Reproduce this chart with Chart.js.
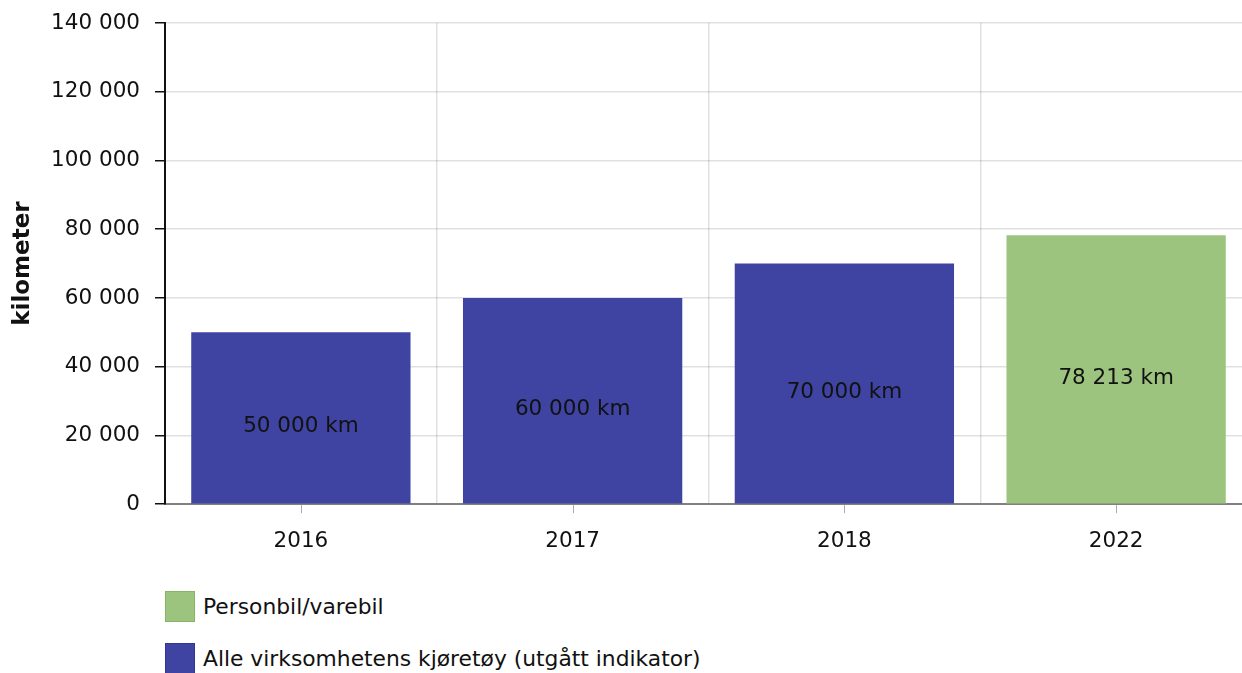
<!DOCTYPE html>
<html>
<head>
<meta charset="utf-8">
<script src="https://cdn.jsdelivr.net/npm/chart.js@4"></script>
<style>
  html, body { margin: 0; padding: 0; background: #fff; overflow: hidden; width: 1242px; height: 673px; }
  #wrap { position: absolute; left: 0; top: 0; width: 1252px; height: 586px; }
  .legend { position: absolute; left: 165px; top: 0; font-family: "DejaVu Sans", Verdana, sans-serif; font-size: 21.8px; color: #111; }
  .legend .item { position: absolute; left: 0; white-space: nowrap; height: 31px; line-height: 31px; }
  .legend .box { position: absolute; left: 0; top: 0; width: 28px; height: 29px; border: 1px solid; }
  .legend .txt { position: absolute; left: 38px; top: 0; }
</style>
</head>
<body>
<div id="wrap"><canvas id="c" width="1252" height="586"></canvas></div>
<div class="legend" id="legend"></div>
<script>
const categories = ['2016', '2017', '2018', '2022'];
const personbilValues = [null, null, null, 78213];
const alleValues = [50000, 60000, 70000, null];
const seriesNames = ['Personbil/varebil', 'Alle virksomhetens kjøretøy (utgått indikator)'];
const yTicks = [0, 20000, 40000, 60000, 80000, 100000, 120000, 140000];
const axisTitle = 'kilometer';

const colors = ['#9cc47e', '#3f44a3'];
const borderColors = ['#86b566', '#2f3496'];
const FONT = '"DejaVu Sans", Verdana, sans-serif';
const FS = 21.5;

function fmt(v) {
  return String(Math.round(v)).replace(/\B(?=(\d{3})+(?!\d))/g, ' ');
}

const extras = {
  id: 'extras',
  afterDraw(chart) {
    const ctx = chart.ctx;
    const x = chart.scales.x, y = chart.scales.y;
    ctx.save();
    ctx.strokeStyle = '#aaaaaa';
    ctx.lineWidth = 1;
    categories.forEach((c, i) => {
      const px = Math.round(x.getPixelForValue(i)) + 0.5;
      ctx.beginPath();
      ctx.moveTo(px, y.bottom + 1);
      ctx.lineTo(px, y.bottom + 9);
      ctx.stroke();
    });
    ctx.fillStyle = '#111';
    ctx.font = FS + 'px ' + FONT;
    ctx.textAlign = 'center';
    ctx.textBaseline = 'middle';
    chart.data.datasets.forEach((ds, di) => {
      const meta = chart.getDatasetMeta(di);
      meta.data.forEach((bar, i) => {
        const v = ds.data[i];
        if (v === null || v === undefined) return;
        const mid = (bar.y + bar.base) / 2;
        ctx.fillText(fmt(v) + ' km', bar.x, mid + 9);
      });
    });
    ctx.restore();
  }
};

new Chart(document.getElementById('c'), {
  type: 'bar',
  data: {
    labels: categories,
    datasets: [
      { label: seriesNames[0], data: personbilValues, backgroundColor: colors[0], borderWidth: 0 },
      { label: seriesNames[1], data: alleValues, backgroundColor: colors[1], borderWidth: 0 }
    ]
  },
  options: {
    responsive: false,
    animation: false,
    layout: { padding: { top: 23, right: 0, bottom: 8, left: 0 } },
    datasets: { bar: { barPercentage: 0.807, categoryPercentage: 1 } },
    plugins: { legend: { display: false }, tooltip: { enabled: false } },
    scales: {
      x: {
        stacked: true,
        z: 1,
        offset: true,
        grid: { offset: true, color: 'rgba(0,0,0,0.12)', drawTicks: false, lineWidth: 1.5 },
        border: { color: '#808080', width: 2 },
        ticks: { font: { family: FONT, size: FS }, color: '#111', padding: 24 }
      },
      y: {
        stacked: true,
        z: 1,
        min: 0, max: 140000,
        afterBuildTicks(scale) { scale.ticks = yTicks.map(v => ({ value: v })); },
        afterFit(scale) { scale.width = 165; scale.paddingTop = 0; scale.paddingBottom = 0; },
        grid: { color: 'rgba(0,0,0,0.12)', tickColor: '#111', tickLength: 10, lineWidth: 1.5 },
        border: { color: '#111', width: 2 },
        ticks: { font: { family: FONT, size: FS }, color: '#111', padding: 15, callback: v => fmt(v) },
        title: { display: true, text: axisTitle, font: { family: FONT, size: 23, weight: 'bold' }, color: '#111', padding: { top: 9, bottom: 0 } }
      }
    }
  },
  plugins: [extras]
});

const leg = document.getElementById('legend');
const tops = [591, 643];
seriesNames.forEach((name, i) => {
  const it = document.createElement('div');
  it.className = 'item';
  it.style.top = tops[i] + 'px';
  it.innerHTML = '<span class="box" style="background:' + colors[i] + ';border-color:' + borderColors[i] + '"></span><span class="txt"></span>';
  it.querySelector('.txt').textContent = name;
  leg.appendChild(it);
});
</script>
</body>
</html>
